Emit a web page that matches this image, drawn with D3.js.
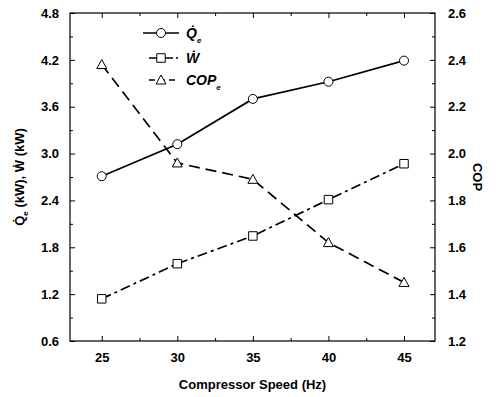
<!DOCTYPE html>
<html>
<head>
<meta charset="utf-8">
<script src="https://cdn.jsdelivr.net/npm/d3@7"></script>
<style>
  body { margin: 0; background: #fff; }
  text { font-family: "Liberation Sans", Arial, sans-serif; fill: #000; }
</style>
</head>
<body>
<div id="chart"></div>
<script>
// data
const speeds = [25, 30, 35, 40, 45];
const qeValues = [2.71, 3.12, 3.70, 3.92, 4.19];
const wValues = [1.14, 1.59, 1.945, 2.41, 2.87];
const copValues = [2.38, 1.96, 1.89, 1.62, 1.45];
const leftTicks = [0.6, 1.2, 1.8, 2.4, 3.0, 3.6, 4.2, 4.8];
const rightTicks = [1.2, 1.4, 1.6, 1.8, 2.0, 2.2, 2.4, 2.6];
const xTicks = [25, 30, 35, 40, 45];

const W = 496, H = 397;
const margin = { left: 70, right: 61, top: 13, bottom: 56 };
const iw = W - margin.left - margin.right;
const ih = H - margin.top - margin.bottom;

const svg = d3.select("#chart").append("svg")
    .attr("width", W).attr("height", H);
const g = svg.append("g")
    .attr("transform", "translate(" + margin.left + "," + margin.top + ")");

const x = d3.scaleLinear().domain([22.9, 47.05]).range([0, iw]);
const yL = d3.scaleLinear().domain([0.6, 4.8]).range([ih, 0]);
const yR = d3.scaleLinear().domain([1.2, 2.6]).range([ih, 0]);

// frame
g.append("rect").attr("width", iw).attr("height", ih)
    .attr("fill", "none").attr("stroke", "#000").attr("stroke-width", 1.2);

// minor tick values
const xMinor = d3.range(22.5, 47.1, 2.5).filter(v => v > 22.9 && v < 47 && !xTicks.includes(v));
const lMinor = d3.range(0.9, 4.8, 0.6).map(v => +v.toFixed(2));
const rMinor = d3.range(1.3, 2.6, 0.2).map(v => +v.toFixed(2));

const fmt1 = d3.format(".1f");
const tickFont = a => a.selectAll("text").attr("font-size", 13).attr("font-weight", "bold")
    .attr("font-family", "Liberation Sans, Arial");

// bottom axis (ticks inward)
g.append("g").attr("transform", "translate(0," + ih + ")")
    .call(d3.axisBottom(x).tickValues(xTicks).tickSize(-5).tickPadding(12).tickFormat(d3.format("d")))
    .call(a => a.select(".domain").remove())
    .call(tickFont);
g.append("g").attr("transform", "translate(0," + ih + ")")
    .call(d3.axisBottom(x).tickValues(xMinor).tickSize(-3).tickFormat(""))
    .call(a => a.select(".domain").remove());

// top axis ticks
g.append("g")
    .call(d3.axisTop(x).tickValues(xTicks).tickSize(-5).tickFormat(""))
    .call(a => a.select(".domain").remove());
g.append("g")
    .call(d3.axisTop(x).tickValues(xMinor).tickSize(-3).tickFormat(""))
    .call(a => a.select(".domain").remove());

// left axis
g.append("g")
    .call(d3.axisLeft(yL).tickValues(leftTicks).tickSize(-5).tickPadding(11).tickFormat(fmt1))
    .call(a => a.select(".domain").remove())
    .call(tickFont);
g.append("g")
    .call(d3.axisLeft(yL).tickValues(lMinor).tickSize(-3).tickFormat(""))
    .call(a => a.select(".domain").remove());

// right axis
g.append("g").attr("transform", "translate(" + iw + ",0)")
    .call(d3.axisRight(yR).tickValues(rightTicks).tickSize(-5).tickPadding(13).tickFormat(fmt1))
    .call(a => a.select(".domain").remove())
    .call(tickFont);
g.append("g").attr("transform", "translate(" + iw + ",0)")
    .call(d3.axisRight(yR).tickValues(rMinor).tickSize(-3).tickFormat(""))
    .call(a => a.select(".domain").remove());

g.selectAll(".tick line").attr("stroke", "#000").attr("stroke-width", 1);

// series
const series = [
    { name: "Qe", values: qeValues, y: yL, dash: null, marker: "circle" },
    { name: "W", values: wValues, y: yL, dash: "10,4,3,4", marker: "square" },
    { name: "COP", values: copValues, y: yR, dash: "11,6", marker: "triangle" }
];

const markerPath = {
    circle: d3.symbol().type(d3.symbolCircle).size(64)(),
    square: d3.symbol().type(d3.symbolSquare).size(72)(),
    triangle: "M0,-5L5,4L-5,4Z"
};

series.forEach(s => {
    const pts = speeds.map((v, i) => [x(v), s.y(s.values[i])]);
    g.append("path")
        .attr("d", d3.line()(pts))
        .attr("fill", "none").attr("stroke", "#000").attr("stroke-width", 1.7)
        .attr("stroke-dasharray", s.dash);
    g.selectAll(null).data(pts).join("path")
        .attr("transform", d => "translate(" + d[0] + "," + d[1] + ")")
        .attr("d", markerPath[s.marker])
        .attr("fill", "#fff").attr("stroke", "#000").attr("stroke-width", 1);
});

// legend
const legend = svg.append("g");
const legRows = [
    { y: 33, dash: null, marker: "circle", label: "Q\u0307", sub: "e" },
    { y: 58, dash: "8,3,2,3", marker: "square", label: "W\u0307", sub: null },
    { y: 80, dash: "6,4", marker: "triangle", label: "COP", sub: "e" }
];
legRows.forEach(r => {
    const x0 = r.marker === "circle" ? 143 : 149;
    legend.append("line").attr("x1", x0).attr("x2", 179).attr("y1", r.y).attr("y2", r.y)
        .attr("stroke", "#000").attr("stroke-width", 1.3).attr("stroke-dasharray", r.dash);
    legend.append("path").attr("transform", "translate(161," + r.y + ")")
        .attr("d", markerPath[r.marker]).attr("fill", "#fff").attr("stroke", "#000");
    const t = legend.append("text").attr("x", 186).attr("y", r.y + 5)
        .attr("font-size", 14).attr("font-weight", "bold").attr("font-style", "italic");
    t.append("tspan").text(r.label);
    if (r.sub) t.append("tspan").attr("dy", 5).attr("font-size", 8).text(r.sub);
});

// axis titles
svg.append("text")
    .attr("x", margin.left + iw / 2).attr("y", 389)
    .attr("text-anchor", "middle").attr("font-size", 13).attr("font-weight", "bold")
    .text("Compressor Speed (Hz)");

const yt = svg.append("text")
    .attr("transform", "translate(24," + (margin.top + ih / 2) + ") rotate(-90)")
    .attr("text-anchor", "middle").attr("font-size", 13).attr("font-weight", "bold");
yt.append("tspan").text("Q\u0307");
yt.append("tspan").attr("dy", 4).attr("font-size", 8).text("e");
yt.append("tspan").attr("dy", -4).text(" (kW), W\u0307 (kW)");

svg.append("text")
    .attr("transform", "translate(473," + (margin.top + ih / 2) + ") rotate(90)")
    .attr("text-anchor", "middle").attr("font-size", 13).attr("font-weight", "bold")
    .text("COP");
</script>
</body>
</html>
